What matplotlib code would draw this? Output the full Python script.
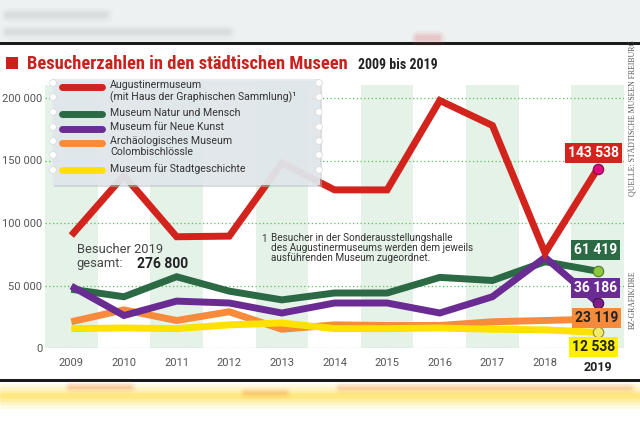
import matplotlib.pyplot as plt
from matplotlib.patches import Rectangle, Circle
from matplotlib import font_manager

years = [2009, 2010, 2011, 2012, 2013, 2014, 2015, 2016, 2017, 2018, 2019]
augustiner = [90000, 138000, 89000, 89500, 148000, 126500, 126500, 198000, 178000, 76000, 143538]
natur = [47000, 41000, 57000, 45500, 38500, 44000, 44000, 56500, 54000, 69000, 61419]
neue_kunst = [49500, 26000, 37500, 36000, 28000, 36000, 36000, 28000, 41000, 72500, 36186]
archaeo = [21000, 30500, 22000, 29000, 15000, 18500, 18000, 18000, 21000, 22000, 23119]
stadt = [15500, 16000, 15500, 18500, 20000, 15500, 15500, 16000, 15000, 14500, 12538]

names = ["Augustinermuseum\n(mit Haus der Graphischen Sammlung)\u00b9",
         "Museum Natur und Mensch",
         "Museum f\u00fcr Neue Kunst",
         "Arch\u00e4ologisches Museum\nColombischl\u00f6ssle",
         "Museum f\u00fcr Stadtgeschichte"]
series = [augustiner, natur, neue_kunst, archaeo, stadt]
colors = ["#d2231c", "#2b6a45", "#6a2b92", "#f68b3c", "#ffe100"]
label_txt = ["143 538", "61 419", "36 186", "23 119", "12 538"]
label_fg = ["white", "white", "white", "#222222", "#222222"]
dot_fc = ["#e4087f", "#8dc63f", "#7b1e86", None, "#f3ea6a"]
dot_ec = ["#7a1040", "#4d7b2b", "#3e1050", None, "#8a8a30"]
yticks = [0, 50000, 100000, 150000, 200000]
total = "276 800"

FONT = ["Roboto", "DejaVu Sans"]
installed = {f.name for f in font_manager.fontManager.ttflist}
NARROW = [f for f in ["Liberation Sans Narrow", "DejaVu Sans Condensed", "Roboto Condensed"]
          if f in installed] + FONT
plt.rcParams['font.family'] = FONT

fig = plt.figure(figsize=(6.4, 4.26), dpi=100)

# background / decoration in pixel coords
bg = fig.add_axes([0, 0, 1, 1])
bg.set_xlim(0, 640)
bg.set_ylim(426, 0)
bg.axis('off')
bg.add_patch(Rectangle((0, 0), 640, 43, fc="#eef1f2", ec="none"))
for a, w in [(0.05, 11), (0.07, 7), (0.09, 4)]:
    bg.plot([8, 105], [15, 15], color="#8a9095", lw=w, alpha=a, solid_capstyle='round')
    bg.plot([8, 228], [32, 32], color="#8a9095", lw=w, alpha=a, solid_capstyle='round')
    bg.plot([418, 438], [38, 38], color="#e06060", lw=w, alpha=a * 1.5, solid_capstyle='round')
bg.add_patch(Rectangle((0, 42), 640, 3, fc="#1a1a1a", ec="none"))
bg.add_patch(Rectangle((0, 379), 640, 3, fc="#1a1a1a", ec="none"))
for a, w in [(0.12, 18), (0.16, 13), (0.2, 8), (0.25, 4)]:
    bg.plot([0, 640], [396, 396], color="#ffd820", lw=w, alpha=a, solid_capstyle='butt')
    bg.plot([70, 130], [387, 387], color="#f39a60", lw=w * 0.5, alpha=a * 0.7, solid_capstyle='round')
    bg.plot([245, 285], [393, 393], color="#f39a60", lw=w * 0.5, alpha=a * 0.7, solid_capstyle='round')
    bg.plot([340, 630], [388, 388], color="#f39a60", lw=w * 0.5, alpha=a * 0.6, solid_capstyle='round')

# title, sized to fit its width in the reference
bg.add_patch(Rectangle((6, 57), 12, 12, fc="#c9211e", ec="none"))
title = bg.text(27, 69, "Besucherzahlen in den st\u00e4dtischen Museen", color="#c9211e",
                fontsize=14.5, fontweight='bold', family=NARROW, va='baseline')
rend = fig.canvas.get_renderer()
w = title.get_window_extent(rend).width
title.set_fontsize(14.5 * 323 / w)
sub = bg.text(358, 69, "2009 bis 2019", color="#222222", fontsize=10,
              fontweight='bold', family=NARROW, va='baseline')
w = sub.get_window_extent(rend).width
sub.set_fontsize(min(10, 10 * 82 / w))

# source texts
bg.text(633, 118, "QUELLE: ST\u00c4DTISCHE MUSEEN FREIBURG", rotation=90, fontsize=5.6,
        color="#555555", ha='center', va='center', family=["Liberation Serif", "DejaVu Serif"])
bg.text(633, 300, "BZ-GRAFIK/DRE", rotation=90, fontsize=5.6,
        color="#555555", ha='center', va='center', family=["Liberation Serif", "DejaVu Serif"])

# main chart
ax = fig.add_axes([45 / 640, 1 - 348 / 426, (624 - 45) / 640, (348 - 85) / 426])
ax.set_xlim(years[0] - 0.5, years[-1] + 0.5)
ax.set_ylim(0, 210400)
ax.patch.set_alpha(0)
for s in ax.spines.values():
    s.set_visible(False)
for yr in years[::2]:
    ax.axvspan(yr - 0.5, yr + 0.5, color="#e5f2e8", zorder=0, lw=0)
for t in yticks:
    ax.axhline(t, color="#55c25a", lw=0.9, ls=(0, (1, 2)), zorder=1)
ax.set_yticks(yticks)
ax.set_yticklabels([f"{t:,}".replace(",", " ") for t in yticks], fontsize=8, color="#555555")
ax.set_xticks(years[:-1])
ax.set_xticklabels([str(y) for y in years[:-1]], fontsize=8, color="#555555")
ax.tick_params(length=0, pad=2)
ax.tick_params(axis='x', pad=7)
ax.text(years[-1], -15500, str(years[-1]), ha='center', va='center', fontsize=9,
        fontweight='bold', color="#222222")

zorders = [6, 4, 5, 2, 3]
for vals, c, z in zip(series, colors, zorders):
    ax.plot(years, vals, color=c, lw=5, solid_joinstyle='miter', solid_capstyle='butt', zorder=z)

offsets = [(-4, 16), (-2, 21), (-2, 15), (-1, 1), (-4, -15)]
for vals, c, txt, fg, fc, ec, off in zip(series, colors, label_txt, label_fg, dot_fc, dot_ec, offsets):
    if fc:
        ax.plot(years[-1], vals[-1], 'o', ms=7.5, mfc=fc, mec=ec, mew=0.8, zorder=8)
    ax.annotate(txt, (years[-1], vals[-1]), xytext=off, textcoords='offset pixels',
                ha='center', va='center', fontsize=10, fontweight='bold', color=fg, zorder=9,
                bbox=dict(boxstyle='square,pad=0.22', fc=c if c != "#ffe100" else "#fff000",
                          ec='none'))

ax.text(2009.1, 79000, "Besucher 2019", fontsize=9.3, color="#444444", va='center')
ax.text(2009.1, 67500, "gesamt:", fontsize=9.3, color="#444444", va='center')
ax.text(2010.25, 67500, total, fontsize=10, fontweight='bold', color="#222222", va='center')

ax.text(2012.6, 87500, "1", fontsize=7, color="#333333", va='center')
ax.text(2012.8, 80000, "Besucher in der Sonderausstellungshalle\ndes Augustinermuseums werden dem jeweils\nausf\u00fchrenden Museum zugeordnet.",
        fontsize=7.2, color="#333333", va='center', linespacing=0.95)

# legend drawn by hand on top
lg = fig.add_axes([0, 0, 1, 1])
lg.set_xlim(0, 640)
lg.set_ylim(426, 0)
lg.axis('off')
lg.add_patch(Rectangle((54, 81), 268, 106, fc="#b8bec4", ec="none", alpha=0.5))
lg.add_patch(Rectangle((52, 79), 268, 106, fc="#e3e9ee", ec="none", alpha=0.9))
for yy in [83, 97, 112, 127, 141, 155, 170]:
    lg.add_patch(Circle((53, yy), 3.4, fc="white", ec="#d5d9dd", lw=0.5))
    lg.add_patch(Circle((319, yy), 3.4, fc="white", ec="#d5d9dd", lw=0.5))
row_y = [87, 114, 129, 143, 170]
for name, c, yy in zip(names, colors, row_y):
    lg.plot([62, 102], [yy, yy], color=c, lw=5, solid_capstyle='round')
    lg.text(110, yy - 6.5, name, fontsize=7.6, color="#333333", va='top', linespacing=1.12)

fig.savefig("out.png", dpi=100)
